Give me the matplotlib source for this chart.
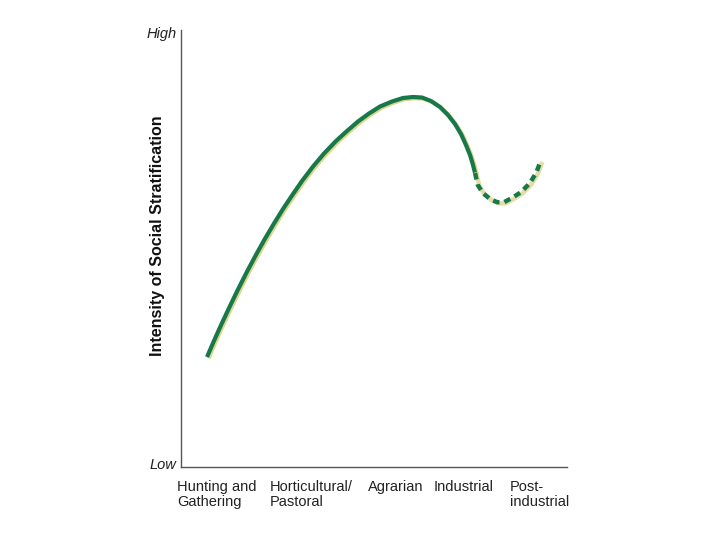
import matplotlib
matplotlib.use("Agg")
import matplotlib.pyplot as plt
import matplotlib.transforms as mtransforms

# Data (0-100 scale, Low=0, High=100)
solid_x = [6.74, 8.55, 10.36, 12.44, 14.77, 17.10, 19.43, 21.76, 24.09, 26.42, 28.76,
           31.35, 34.20, 37.05, 40.16, 43.01, 45.85, 48.70, 51.55, 54.66, 57.51, 60.10,
           62.44, 64.77, 67.10, 69.17, 70.98, 72.54, 73.83, 74.87, 75.65, 76.17]
solid_y = [25.17, 28.88, 32.45, 36.38, 40.64, 44.71, 48.56, 52.24, 55.72, 59.04, 62.13,
           65.45, 68.76, 71.74, 74.60, 76.89, 79.06, 80.89, 82.49, 83.64, 84.44, 84.67,
           84.55, 83.75, 82.38, 80.55, 78.49, 76.20, 73.68, 71.40, 69.11, 67.28]
dash_x = [76.17, 76.9, 78.2, 80.1, 81.9, 83.7, 85.8, 88.1, 90.4, 92.0, 93.0]
dash_y = [67.28, 64.5, 62.7, 61.3, 60.6, 60.6, 61.6, 62.9, 65.0, 67.3, 69.6]

stage_labels = ["Hunting and\nGathering", "Horticultural/\nPastoral", "Agrarian",
                "Industrial", "Post-\nindustrial"]
stage_pos = [-1.0, 23.1, 48.4, 65.5, 85.2]

fig = plt.figure(figsize=(7.2, 5.4), dpi=100)
ax = fig.add_axes([181/720, 73/540, 386/720, 437/540])
ax.set_xlim(0, 100)
ax.set_ylim(0, 100)

green = "#17784a"
yellow = "#dcd68c"

shadow = mtransforms.offset_copy(ax.transData, fig=fig, x=1.6, y=-1.2, units="dots")
ax.plot(solid_x, solid_y, color=yellow, lw=3.0, solid_capstyle="butt",
        solid_joinstyle="round", transform=shadow)
ax.plot(solid_x, solid_y, color=green, lw=3.0, solid_capstyle="butt",
        solid_joinstyle="round")
ax.plot(dash_x, dash_y, color=yellow, lw=3.2, transform=shadow, alpha=0.8,
        solid_joinstyle="round")
ax.plot(dash_x, dash_y, color=green, lw=3.2, linestyle=(0, (1.5, 1.1)),
        dash_capstyle="butt", dash_joinstyle="round")

for s in ["top", "right"]:
    ax.spines[s].set_visible(False)
for s in ["left", "bottom"]:
    ax.spines[s].set_color("#555555")
    ax.spines[s].set_linewidth(1.0)
ax.set_xticks([])
ax.set_yticks([])

for p, lab in zip(stage_pos, stage_labels):
    ax.text(p, -3, lab, ha="left", va="top", fontsize=10.5, family="Liberation Sans",
            color="#222222", linespacing=1.05)

ax.text(-1.2, 99, "High", ha="right", va="center", fontsize=10.5, style="italic",
        family="Liberation Sans", color="#222222")
ax.text(-1.2, 0.5, "Low", ha="right", va="center", fontsize=10.5, style="italic",
        family="Liberation Sans", color="#222222")
ax.text(-6.0, 53, "Intensity of Social Stratification", rotation=90, ha="center",
        va="center", fontsize=11.5, fontweight="bold", family="Liberation Sans",
        color="#111111")

fig.savefig("out.png", dpi=100)
